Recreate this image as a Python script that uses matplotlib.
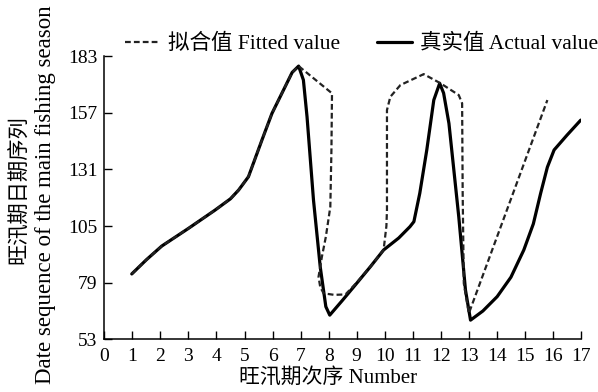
import matplotlib
matplotlib.use("Agg")
import matplotlib.pyplot as plt

# --- Data ---
actual_x = [0.98, 1.5, 2.05, 3.0, 3.95, 4.5, 4.79, 5.14, 5.62, 5.98, 6.39, 6.7, 6.93,
            7.1, 7.23, 7.46, 7.7, 7.9, 8.04, 8.5, 9.0, 9.5, 9.96, 10.5, 10.9, 11.04,
            11.25, 11.5, 11.75, 11.96, 12.1, 12.29, 12.64, 12.88, 13.06, 13.5, 14.01,
            14.5, 14.96, 15.3, 15.56, 15.8, 16.04, 16.5, 16.99]
actual_y = [83, 89.5, 95.8, 103.9, 112.3, 117.5, 121.5, 127.6, 144.4, 156.7, 167.4, 175.5, 178.4,
            172, 155.1, 116.9, 86.3, 68, 64.1, 71, 78.7, 86.5, 94, 99.5, 104.7, 107,
            120, 139.9, 162.8, 170.5, 166, 152.1, 109.3, 75.6, 61.8, 66, 72.6,
            81.5, 94, 106, 120, 132, 139.9, 146.7, 153.6]

fitted_x = [0.98, 1.5, 2.05, 3.0, 3.95, 4.5, 4.79, 5.14, 5.62, 5.98, 6.39, 6.7, 6.93,
            8.12, 8.1, 8.06, 7.9, 7.76, 7.64, 7.7, 7.82, 8.2, 8.6, 9.0, 9.5, 9.96,
            10.06, 10.08, 10.08, 10.2, 10.56, 11.39, 11.99, 12.64, 12.76, 12.78, 12.82,
            13.0, 15.8]
fitted_y = [83, 89.5, 95.8, 103.9, 112.3, 117.5, 121.5, 127.6, 144.4, 156.7, 167.4, 175.5, 178.4,
            165.9, 140, 113.8, 100, 90.9, 81.7, 77, 74.1, 73.4, 73.6, 79, 86.5, 94,
            105, 112.3, 158.2, 164.3, 169.7, 174.7, 170.5, 165.1, 161.3, 120, 78.7,
            64.9, 162.8]

y_ticks = [53, 79, 105, 131, 157, 183]
x_ticks = list(range(0, 18))

# --- Style ---
plt.rcParams['font.family'] = ['Liberation Serif', 'Noto Sans CJK SC']
plt.rcParams['font.size'] = 14

fig = plt.figure(figsize=(5.98, 3.92), dpi=100)
ax = fig.add_axes([0.1744, 0.1344, 0.7972, 0.7226])

ax.plot(fitted_x, fitted_y, color='#222222', lw=1.6, ls=(0, (2.6, 1.4)),
        label='拟合值 Fitted value', zorder=3)
ax.plot(actual_x, actual_y, color='black', lw=2.3, solid_capstyle='round',
        label='真实值 Actual value', zorder=2)

ax.set_xlim(0, 17)
ax.set_ylim(53, 183)
ax.set_xticks(x_ticks)
ax.set_yticks(y_ticks)
ax.tick_params(direction='in', length=6, width=1)
ax.tick_params(axis='x', pad=6)
ax.tick_params(axis='y', pad=5)

for side in ['top', 'right']:
    ax.spines[side].set_visible(False)
for side in ['left', 'bottom']:
    ax.spines[side].set_linewidth(1.1)

# x label sits a bit left of the axis centre in the original
ax.set_xlabel('旺汛期次序 Number', fontsize=15)
ax.xaxis.label.set_va('center')
ax.xaxis.set_label_coords(0.469, -0.137)

fig.text(20 / 598, 1 - 189.5 / 392, '旺汛期日期序列', rotation=90, ha='center',
         va='center', fontsize=15.3)
fig.text(46 / 598, 1 - 195 / 392, 'Date sequence of the main fishing season',
         rotation=90, ha='center', va='center', fontsize=16.5)

ax.legend(ncol=2, loc='center left', bbox_to_anchor=(0.043, 1.042), frameon=False,
          handlelength=1.63, handletextpad=0.37, columnspacing=1.7,
          borderaxespad=0, borderpad=0, fontsize=15.5)

fig.savefig('out.png', dpi=100)
